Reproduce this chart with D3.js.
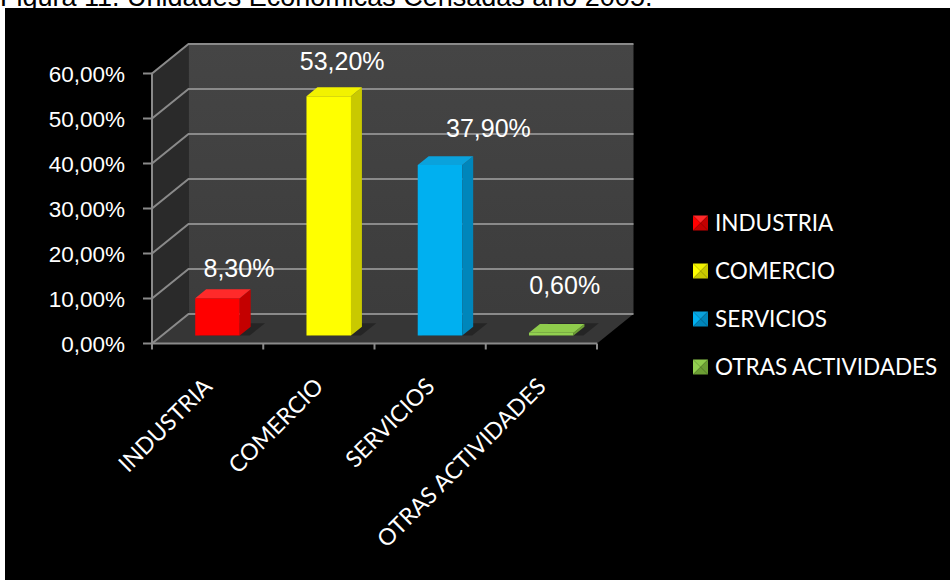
<!DOCTYPE html>
<html>
<head>
<meta charset="utf-8">
<script src="https://cdn.jsdelivr.net/npm/d3@7"></script>
<style>
	html, body { margin: 0; padding: 0; background: #fff; }
	svg { display: block; }
</style>
</head>
<body>
<svg width="950" height="580"></svg>
<script>
const categories = ['INDUSTRIA', 'COMERCIO', 'SERVICIOS', 'OTRAS ACTIVIDADES'];
const values = [8.3, 53.2, 37.9, 0.6];
const valueLabels = ['8,30%', '53,20%', '37,90%', '0,60%'];
const yTicks = [0, 10, 20, 30, 40, 50, 60];
const yTickLabels = ['0,00%', '10,00%', '20,00%', '30,00%', '40,00%', '50,00%', '60,00%'];
const titleText = 'Figura 11. Unidades Económicas Censadas año 2005.';

// colours per bar: front, side, top
const barColors = [
	['#ff0000', '#c40000', '#ff2a2a'],
	['#ffff00', '#c9c900', '#f2f200'],
	['#00b0f0', '#0086bb', '#0aa2dc'],
	['#92d050', '#6c9e34', '#8fcc4c'],
];
// manual nudges of the value labels, like the hand-placed ones in the original
const labelNudge = [[16, -17], [8, -22], [43, -24], [8, -34]];

const depthX = 36.5;
const depthY = -29.5;
const barFront = 0.27;
const barBack = 0.57;
const sideColor = '#2a2a2a';
const floorColor = '#363636';
const gridColor = '#8a8a8a';
const textColor = '#ffffff';

const svg = d3.select('svg');

svg.append('rect')
	.attr('x', 5)
	.attr('y', 8)
	.attr('width', 945)
	.attr('height', 572)
	.attr('fill', '#000');

// the caption sits half outside the top edge, as in the original scan
svg.append('text')
	.attr('x', 0)
	.attr('y', 6)
	.attr('font-family', '"Liberation Sans", Arial, sans-serif')
	.attr('font-size', 27)
	.attr('fill', '#000')
	.text(titleText);

const x = d3.scaleBand()
	.domain(categories)
	.range([152, 597])
	.paddingInner(0.6)
	.paddingOuter(0.3);

const y = d3.scaleLinear()
	.domain([0, 60])
	.range([343.5, 73.5]);

const x0 = x.range()[0];
const x1 = x.range()[1];
const proj = (px, py, d) => [px + d * depthX, py + d * depthY];
const pts = (list) => list.map((p) => p.join(',')).join(' ');

const defs = svg.append('defs');
const wallGrad = defs.append('linearGradient')
	.attr('id', 'wallGrad')
	.attr('x1', 0).attr('y1', 0).attr('x2', 0).attr('y2', 1);
wallGrad.append('stop').attr('offset', 0).attr('stop-color', '#454545');
wallGrad.append('stop').attr('offset', 1).attr('stop-color', '#3c3c3c');

const chart = svg.append('g');

// side wall
chart.append('polygon')
	.attr('points', pts([
		[x0, y(60)], proj(x0, y(60), 1), proj(x0, y(0), 1), [x0, y(0)],
	]))
	.attr('fill', sideColor);

// back wall
chart.append('polygon')
	.attr('points', pts([
		proj(x0, y(60), 1), proj(x1, y(60), 1), proj(x1, y(0), 1), proj(x0, y(0), 1),
	]))
	.attr('fill', 'url(#wallGrad)');

// floor
chart.append('polygon')
	.attr('points', pts([
		[x0, y(0)], [x1, y(0)], proj(x1, y(0), 1), proj(x0, y(0), 1),
	]))
	.attr('fill', floorColor);

// gridlines over side and back walls
chart.append('g')
	.selectAll('polyline')
	.data(yTicks)
	.enter()
		.append('polyline')
		.attr('points', (d) => pts([[x0, y(d)], proj(x0, y(d), 1), proj(x1, y(d), 1)]))
		.attr('fill', 'none')
		.attr('stroke', gridColor)
		.attr('stroke-width', 2);

// axes
chart.append('line')
	.attr('x1', x0).attr('y1', y(60))
	.attr('x2', x0).attr('y2', y(0))
	.attr('stroke', gridColor)
	.attr('stroke-width', 2);
chart.append('line')
	.attr('x1', x0).attr('y1', y(0))
	.attr('x2', x1).attr('y2', y(0))
	.attr('stroke', gridColor)
	.attr('stroke-width', 2);

chart.append('g')
	.selectAll('line')
	.data(yTicks)
	.enter()
		.append('line')
		.attr('x1', x0 - 9).attr('x2', x0)
		.attr('y1', (d) => y(d)).attr('y2', (d) => y(d))
		.attr('stroke', gridColor)
		.attr('stroke-width', 2);

const step = x.step();
const xTickPos = d3.range(categories.length + 1).map((i) => x0 + i * step);
chart.append('g')
	.selectAll('line')
	.data(xTickPos)
	.enter()
		.append('line')
		.attr('x1', (d) => d).attr('x2', (d) => d)
		.attr('y1', y(0)).attr('y2', y(0) + 6)
		.attr('stroke', gridColor)
		.attr('stroke-width', 2);

// y tick labels
chart.append('g')
	.selectAll('text')
	.data(yTicks)
	.enter()
		.append('text')
		.attr('x', 125)
		.attr('y', (d) => y(d))
		.attr('dy', '0.36em')
		.attr('text-anchor', 'end')
		.attr('font-family', '"Liberation Sans", Arial, sans-serif')
		.attr('font-size', 22.5)
		.attr('fill', textColor)
		.text((d, i) => yTickLabels[i]);

// bars
const bars = categories.map((c, i) => ({ cat: c, value: values[i], i }));
const barG = chart.append('g')
	.selectAll('g')
	.data(bars)
	.enter()
		.append('g');

// soft shadow on the floor
barG.append('polygon')
	.attr('points', (d) => {
		const a = x(d.cat) + 4;
		const b = x(d.cat) + x.bandwidth() + 10;
		return pts([proj(a, y(0), barFront), proj(b, y(0), barFront),
			proj(b, y(0), barBack + 0.12), proj(a, y(0), barBack + 0.12)]);
	})
	.attr('fill', '#000')
	.attr('opacity', 0.3);

barG.append('polygon')
	.attr('points', (d) => {
		const a = x(d.cat);
		const b = a + x.bandwidth();
		return pts([proj(a, y(d.value), barFront), proj(b, y(d.value), barFront),
			proj(b, y(0), barFront), proj(a, y(0), barFront)]);
	})
	.attr('fill', (d) => barColors[d.i][0]);

barG.append('polygon')
	.attr('points', (d) => {
		const b = x(d.cat) + x.bandwidth();
		return pts([proj(b, y(d.value), barFront), proj(b, y(d.value), barBack),
			proj(b, y(0), barBack), proj(b, y(0), barFront)]);
	})
	.attr('fill', (d) => barColors[d.i][1]);

barG.append('polygon')
	.attr('points', (d) => {
		const a = x(d.cat);
		const b = a + x.bandwidth();
		return pts([proj(a, y(d.value), barFront), proj(b, y(d.value), barFront),
			proj(b, y(d.value), barBack), proj(a, y(d.value), barBack)]);
	})
	.attr('fill', (d) => barColors[d.i][2]);

// value labels
chart.append('g')
	.selectAll('text')
	.data(bars)
	.enter()
		.append('text')
		.attr('x', (d) => proj(x(d.cat) + x.bandwidth() / 2, 0, 0.42)[0] + labelNudge[d.i][0])
		.attr('y', (d) => proj(0, y(d.value), 0.42)[1] + labelNudge[d.i][1])
		.attr('text-anchor', 'middle')
		.attr('font-family', '"Liberation Sans", Arial, sans-serif')
		.attr('font-size', 25)
		.attr('fill', textColor)
		.text((d) => valueLabels[d.i]);

// category labels, rotated
chart.append('g')
	.selectAll('text')
	.data(categories)
	.enter()
		.append('text')
		.attr('transform', (d) => `translate(${x(d) + x.bandwidth() / 2 + 6}, 388) rotate(-45)`)
		.attr('text-anchor', 'end')
		.attr('font-family', 'Lato, "Open Sans", sans-serif')
		.attr('font-size', 23)
		.attr('fill', textColor)
		.text((d) => d);

// legend
const legend = svg.append('g')
	.attr('transform', 'translate(693, 223)');
const item = legend.selectAll('g')
	.data(bars)
	.enter()
		.append('g')
		.attr('transform', (d) => `translate(0, ${d.i * 48})`);

const m = 7.5;
const tri = [
	[[-m, -m], [m, -m], [0, 0], 2],
	[[-m, -m], [-m, m], [0, 0], 0],
	[[m, -m], [m, m], [0, 0], 1],
	[[-m, m], [m, m], [0, 0], 1],
];
item.selectAll('polygon')
	.data((d) => tri.map((t) => ({ t, c: barColors[d.i] })))
	.enter()
		.append('polygon')
		.attr('transform', `translate(${m}, 0)`)
		.attr('points', (d) => pts(d.t.slice(0, 3)))
		.attr('fill', (d) => d.c[d.t[3]]);

item.append('text')
	.attr('x', 22)
	.attr('y', 0)
	.attr('dy', '0.36em')
	.attr('font-family', 'Lato, "Open Sans", sans-serif')
	.attr('font-size', 22.5)
	.attr('fill', textColor)
	.text((d) => d.cat);
</script>
</body>
</html>
